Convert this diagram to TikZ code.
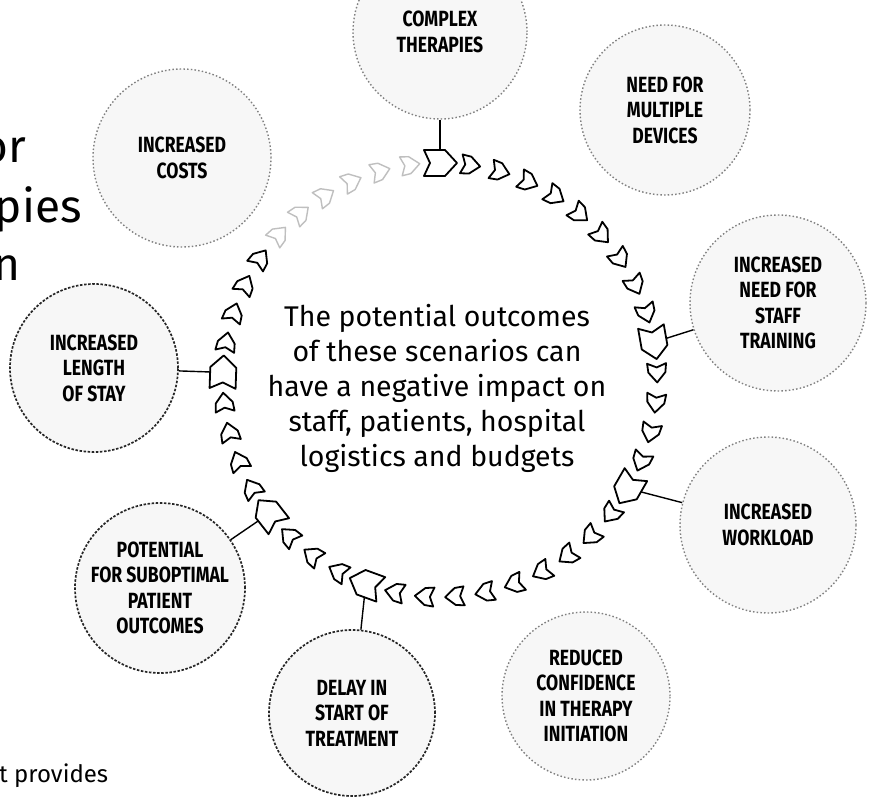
\documentclass[tikz,border=0pt]{standalone}
\usepackage{fontspec}
\setmainfont{Fira Sans}
\newfontfamily\labelfont[FakeStretch=0.8]{Fira Sans}
\tikzset{
  bubble/.style={circle, draw=black!85, line width=1.7pt, dash pattern=on 2.5pt off 1.6pt,
    fill=gray!6, inner sep=0pt, align=center,
    font=\labelfont\bfseries\fontsize{22}{25.5}\selectfont},
  faint/.style={draw=black!50, line width=1.4pt, dash pattern=on 1.5pt off 2.2pt},
  conn/.style={draw=black, line width=1.4pt},
  chev/.style={draw=black, fill=white, line width=1.8pt, line join=round},
  chevfade/.style={draw=gray!50, fill=white, line width=1.4pt, line join=round},
  centertext/.style={align=center, font=\fontsize{28.5}{35}\selectfont, inner sep=0pt},
  titlefrag/.style={font=\fontsize{46}{58}\selectfont, inner sep=0pt},
  bodyfrag/.style={font=\fontsize{24}{28}\selectfont, inner sep=0pt}
}
\newcommand\smallchev[2]{%
  \path[#2, shift={({440+217*cos(#1)},{380+217*sin(#1)})}, rotate={-(#1+90)}]
    (10pt,0pt) -- (0pt,8.5pt) -- (-9pt,9.5pt) -- (-5pt,0pt) -- (-9pt,-9.5pt) -- (0pt,-8.5pt) -- cycle;}
\newcommand\bigchev[1]{%
  \path[chev, shift={({440+217*cos(#1)},{380+217*sin(#1)})}, rotate={-(#1+90)}]
    (17pt,0pt) -- (5pt,13pt) -- (-16pt,13pt) -- (-10pt,0pt) -- (-16pt,-13pt) -- (5pt,-13pt) -- cycle;}
\begin{document}
\begin{tikzpicture}[x=1pt, y=-1pt]
\useasboundingbox (0,0) rectangle (873,797);
\clip (0,0) rectangle (873,797);
\fill[white] (0,0) rectangle (873,797);

% outer bubbles
\node[bubble, faint, minimum size=174pt] (complex) at (440,32) {COMPLEX\\THERAPIES};
\node[bubble, faint, minimum size=170pt] (devices) at (665,110) {NEED FOR\\MULTIPLE\\DEVICES};
\node[bubble, faint, minimum size=176pt] (staff) at (778,303) {INCREASED\\NEED FOR\\STAFF\\TRAINING};
\node[bubble, faint, minimum size=176pt] (workload) at (768,525) {INCREASED\\WORKLOAD};
\node[bubble, faint, minimum size=168pt] (confidence) at (586,696) {REDUCED\\CONFIDENCE\\IN THERAPY\\INITIATION};
\node[bubble, minimum size=166pt] (delay) at (352,713) {DELAY IN\\START OF\\TREATMENT};
\node[bubble, minimum size=170pt] (suboptimal) at (160,588) {POTENTIAL\\FOR SUBOPTIMAL\\PATIENT\\OUTCOMES};
\node[bubble, minimum size=168pt] (stay) at (94,368) {INCREASED\\LENGTH\\OF STAY};
\node[bubble, faint, minimum size=178pt] (costs) at (182,158) {INCREASED\\COSTS};

% junction points on the ring
\coordinate (jComplex) at ({440+217*cos(-90)},{380+217*sin(-90)});
\coordinate (jStaff) at ({440+217*cos(-10)},{380+217*sin(-10)});
\coordinate (jWork) at ({440+217*cos(30)},{380+217*sin(30)});
\coordinate (jDelay) at ({440+217*cos(110)},{380+217*sin(110)});
\coordinate (jSub) at ({440+217*cos(142)},{380+217*sin(142)});
\coordinate (jStay) at ({440+217*cos(182)},{380+217*sin(182)});

% connectors
\draw[conn] (jComplex) -- (complex);
\draw[conn] (jStaff) -- (staff);
\draw[conn] (jWork) -- (workload);
\draw[conn] (jDelay) -- (delay);
\draw[conn] (jSub) -- (suboptimal);
\draw[conn] (jStay) -- (stay);

% ring of arrowheads (clockwise)
\foreach \k in {1,...,9,11,12,...,14,16,17,...,24,26,27,28,30,31,...,33,35,36,37,38} {
  \smallchev{-90+8*\k}{chev}
}
\foreach \k in {39,...,44} {
  \smallchev{-90+8*\k}{chevfade}
}
\foreach \a in {-90,-10,30,110,142,182} {
  \bigchev{\a}
}

% central statement
\node[centertext] (center) at (437,388) {The potential outcomes\\of these scenarios can\\have a negative impact on\\staff, patients, hospital\\logistics and budgets};

% cut-off text fragments at the left edge
\node[titlefrag, anchor=base east] (t1) at (26,163) {or};
\node[titlefrag, anchor=base east] (t2) at (82,222) {pies};
\node[titlefrag, anchor=base east] (t3) at (21,280) {n};
\node[bodyfrag, anchor=base west] (b1) at (-1,782) {t provides};
\end{tikzpicture}
\end{document}
